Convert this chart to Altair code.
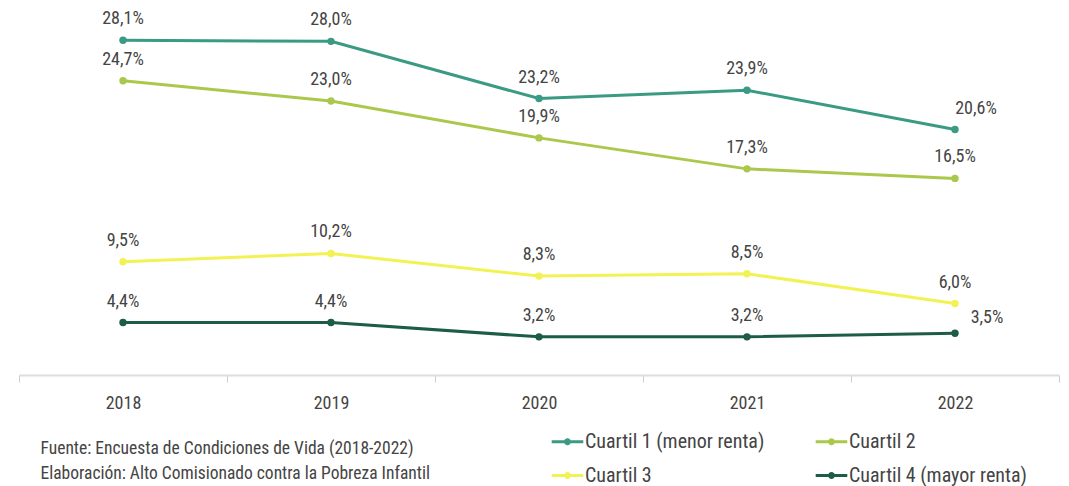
import altair as alt
import pandas as pd

years = ["2018", "2019", "2020", "2021", "2022"]
series_names = ["Cuartil 1 (menor renta)", "Cuartil 2", "Cuartil 3", "Cuartil 4 (mayor renta)"]
q1 = [28.1, 28.0, 23.2, 23.9, 20.6]
q2 = [24.7, 23.0, 19.9, 17.3, 16.5]
q3 = [9.5, 10.2, 8.3, 8.5, 6.0]
q4 = [4.4, 4.4, 3.2, 3.2, 3.5]
colors = ["#3a9a84", "#aac94c", "#f2f254", "#1d5c46"]
footer = ["Fuente: Encuesta de Condiciones de Vida (2018-2022)",
          "Elaboración: Alto Comisionado contra la Pobreza Infantil"]

rows = []
for name, vals in zip(series_names, [q1, q2, q3, q4]):
    for y, v in zip(years, vals):
        rows.append({"year": y, "serie": name, "value": v,
                     "label": f"{v:.1f}%".replace(".", ",")})
df = pd.DataFrame(rows)

FONT = "'Liberation Sans Narrow', 'Roboto Condensed', Roboto, sans-serif"
TXT = "#444444"

x = alt.X("year:N", title=None,
          scale=alt.Scale(type="band", paddingInner=0, paddingOuter=0),
          axis=alt.Axis(labelAngle=0, tickBand="extent", domainColor="#dddddd",
                        domainWidth=2, tickColor="#cccccc", tickSize=7,
                        labelFontSize=18, labelColor=TXT, labelFont=FONT,
                        labelPadding=12, grid=False))
y = alt.Y("value:Q", title=None, scale=alt.Scale(domain=[0, 30.8], nice=False),
          axis=None)

legend_path = "M-1,0L1,0M-0.12,0a0.12,0.12 0 1,0 0.24,0a0.12,0.12 0 1,0 -0.24,0"
color = alt.Color("serie:N", scale=alt.Scale(domain=series_names, range=colors),
                  legend=alt.Legend(title=None, orient="none", legendX=531, legendY=416,
                                    direction="horizontal", columns=2,
                                    columnPadding=44, rowPadding=6, labelLimit=400,
                                    symbolType=legend_path, symbolSize=1000,
                                    symbolStrokeWidth=3, labelFontSize=20,
                                    labelFont=FONT, labelColor=TXT, labelOffset=0))

base = alt.Chart(df)
lines = base.mark_line(strokeWidth=3).encode(x=x, y=y, color=color)
pts = base.mark_circle(size=55, opacity=1).encode(
    x=x, y=y,
    color=alt.Color("serie:N", scale=alt.Scale(domain=series_names, range=colors), legend=None))

is_35 = (alt.datum.serie == series_names[3]) & (alt.datum.year == "2022")
is_206 = (alt.datum.serie == series_names[0]) & (alt.datum.year == "2022")

labels_main = base.transform_filter(~(is_35 | is_206)).mark_text(
    dy=-21, fontSize=18, font=FONT, color=TXT, baseline="middle").encode(
    x=x, y=y, text="label:N")
label_206 = base.transform_filter(is_206).mark_text(
    dy=-21, dx=21, fontSize=18, font=FONT, color=TXT, baseline="middle").encode(
    x=x, y=y, text="label:N")
label_35 = base.transform_filter(is_35).mark_text(
    dy=-15, dx=32, fontSize=18, font=FONT, color=TXT, baseline="middle").encode(
    x=x, y=y, text="label:N")

chart = alt.layer(lines, pts, labels_main, label_206, label_35).properties(
    width=1040, height=367,
    padding={"left": 10, "top": 0, "right": 0, "bottom": 0},
    title=alt.TitleParams(text=footer, orient="bottom", anchor="start", dx=22,
                          offset=22, dy=-68, fontSize=17.5, font=FONT, color=TXT,
                          fontWeight="normal", lineHeight=25)
).configure(background="white").configure_view(strokeWidth=0, stroke="transparent")

chart.save("out.html", embed_options={"renderer": "svg", "actions": False})
